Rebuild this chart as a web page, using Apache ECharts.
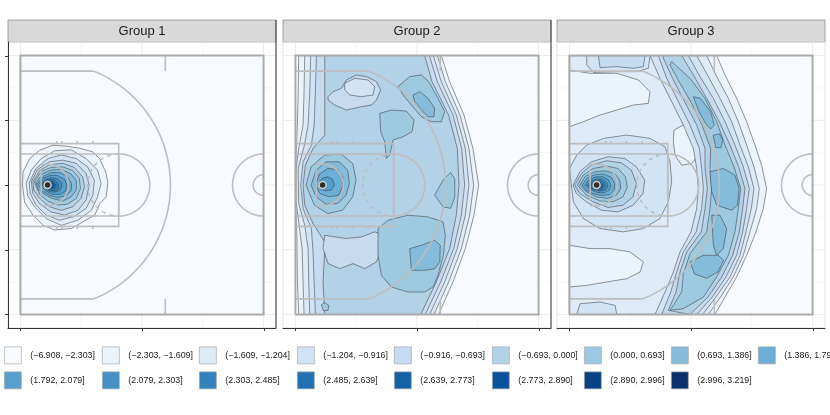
<!DOCTYPE html>
<html><head><meta charset="utf-8">
<script src="https://cdn.jsdelivr.net/npm/echarts@6/dist/echarts.min.js"></script>
<style>html,body{margin:0;padding:0;background:#fff}#c{width:830px;height:415px}</style>
</head><body><div id="c"></div>
<script>
// ---------- data ----------
const panelTitles = ['Group 1', 'Group 2', 'Group 3'];
const levelLabels = ['(\u22126.908, \u22122.303]','(\u22122.303, \u22121.609]','(\u22121.609, \u22121.204]','(\u22121.204, \u22120.916]','(\u22120.916, \u22120.693]','(\u22120.693, 0.000]','(0.000, 0.693]','(0.693, 1.386]','(1.386, 1.792]','(1.792, 2.079]','(2.079, 2.303]','(2.303, 2.485]','(2.485, 2.639]','(2.639, 2.773]','(2.773, 2.890]','(2.890, 2.996]','(2.996, 3.219]'];
const levelColors = ['#F7FBFF','#EBF3FB','#DEEBF7','#D2E3F3','#C6DBEF','#B2D2E8','#9ECAE1','#85BCDC','#6BAED6','#57A0CE','#4292C6','#3282BE','#2171B5','#1461A8','#08519C','#084184','#08306B'];
const xBreaks = [0, 23.5, 47];
const xMinorBreaks = [11.75, 35.25];
const yBreaks = [0, 12.5, 25, 37.5, 50];
const yMinorBreaks = [6.25, 18.75, 31.25, 43.75];
const hoop = [5.25, 25];

// court geometry (feet)
const courtBoundary = [[0,0],[47,0],[47,50],[0,50],[0,0]];
const courtSegments = [
  [[0,17],[19,17],[19,33],[0,33]],
  [[0,19],[19,19],[19,31],[0,31]],
  [[0,3],[14.18,3]], [[0,47],[14.18,47]],
  [[4,22],[4,28]], [[4,21],[5.25,21]], [[4,29],[5.25,29]],
  [[28,0],[28,3]], [[28,47],[28,50]],
  [[7,16.5],[7,17]], [[8,16.5],[8,17]], [[11,16.5],[11,17]], [[14,16.5],[14,17]],
  [[7,33],[7,33.5]], [[8,33],[8,33.5]], [[11,33],[11,33.5]], [[14,33],[14,33.5]]
];
const courtArcs = [[5.25,25,23.75,-67.86,67.86],[19,25,6,-90,90],[5.25,25,4,-90,90],[47,25,6,90,270],[47,25,2,90,270]];
const dashedArcs = [[19,25,6,90,270]];

// contour patches per panel: [level, flat x,y list], drawn in listed order
const group1 = [
[1,[0,0, 47,0, 47,50, 0,50]],
[2,[0.4,25, 0.5,27.5, 1.8,30.1, 3.7,31.7, 6.3,32.7, 8.9,32.5, 11.5,32.1, 14.0,31.4, 15.3,30.1, 16.5,27.5, 16.9,25.6, 16.6,22.7, 15.3,21.4, 14.4,19.2, 12.1,17.9, 9.9,16.6, 6.6,16.3, 4.4,17.2, 2.4,19.2, 0.8,21.7]],
[3,[1.1,25.3, 2.1,27.9, 4.0,30.1, 6.6,31.6, 9.8,31.8, 12.7,30.1, 14.9,27.9, 15.6,25.3, 14.9,22.7, 13.7,20.1, 11.1,18.2, 7.9,17.2, 5.0,18.5, 2.7,20.8, 1.4,23.0]],
[4,[1.7,25.4, 3.0,28.2, 5.3,30.1, 7.9,30.8, 10.8,30.1, 13.0,28.5, 14.3,25.9, 14.0,23.0, 12.7,20.5, 10.4,18.9, 7.5,18.2, 5.0,19.2, 3.0,21.1, 1.9,23.4]],
[5,[2.1,25.6, 3.3,28.0, 5.6,29.5, 8.2,29.8, 10.8,29.2, 12.7,27.2, 13.3,25.0, 12.7,22.1, 11.1,20.1, 8.5,19.2, 5.9,19.8, 3.7,21.4, 2.4,23.4]],
[6,[2.4,25.6, 3.7,27.8, 5.6,28.9, 8.2,29.2, 10.4,28.4, 12.0,26.6, 12.4,24.7, 11.7,22.4, 10.1,20.8, 7.9,20.1, 5.6,20.8, 3.7,22.4, 2.6,24.0]],
[7,[2.7,25.6, 4.0,27.6, 5.9,28.4, 8.2,28.5, 10.1,27.8, 11.4,26.3, 11.6,24.3, 10.8,22.4, 9.1,21.3, 7.2,21.1, 5.3,21.9, 3.7,23.2]],
[8,[3.0,25.4, 4.3,27.2, 5.9,27.9, 7.9,28.0, 9.7,27.2, 10.8,25.9, 10.8,24.0, 9.8,22.7, 8.2,21.9, 6.2,22.4, 4.6,23.2, 3.5,24.1]],
[9,[3.3,25.3, 4.5,26.7, 5.9,27.4, 7.7,27.4, 9.1,26.6, 9.9,25.3, 9.8,23.9, 8.8,22.9, 7.2,22.6, 5.6,23.0, 4.1,23.9]],
[10,[3.7,25.3, 4.6,26.4, 5.9,26.9, 7.3,26.8, 8.5,26.1, 9.0,25.0, 8.7,23.8, 7.7,23.2, 6.2,23.2, 4.8,23.9]],
[11,[4.0,25.2, 4.8,26.1, 5.9,26.4, 7.1,26.2, 7.9,25.5, 8.0,24.7, 7.5,23.9, 6.4,23.6, 5.2,24.0]],
[12,[4.2,25.2, 5.0,25.9, 5.9,26.1, 6.8,25.8, 7.3,25.2, 7.3,24.3, 6.6,23.9, 5.4,24.1]],
[13,[4.4,25.2, 5.2,25.7, 5.9,25.8, 6.6,25.4, 6.9,24.9, 6.6,24.3, 5.6,24.3]],
[14,[4.6,25.1, 5.2,25.5, 5.9,25.5, 6.4,25.2, 6.4,24.5, 5.6,24.5, 4.9,24.7]],
[15,[4.8,25.1, 5.3,25.4, 5.9,25.3, 6.1,25.0, 5.9,24.6, 5.2,24.7]],
[16,[4.9,25.1, 5.3,25.2, 5.7,25.2, 5.9,24.9, 5.5,24.7, 5.0,24.8]],
[17,[5.0,25.1, 5.3,25.2, 5.6,25.0, 5.5,24.9, 5.2,24.9]]
];

const group2 = [
[1,[0,0, 47,0, 47,50, 0,50]],
[2,[0.64,50, 28.2,50, 29.81,44.97, 32.58,38.52, 34.32,32.06, 35.42,24.97, 34.51,19.16, 32.84,12.71, 30.46,6.26, 27.69,0, 0.64,0, 0.39,6.26, 0.26,15.94, 0,21.74, 0,28.19, 0.26,33.35, 0.52,41.74]],
[3,[1.8,50, 27.43,50, 28.98,44.97, 31.81,38.52, 33.55,32.06, 34.45,24.97, 33.68,19.16, 32.07,12.71, 29.62,6.26, 26.79,0, 1.67,0, 1.48,6.26, 1.29,12.71, 0.64,17.87, 0.13,21.74, 0.13,28.19, 0.64,32.06, 1.48,36.58, 1.67,43.03]],
[4,[2.96,50, 26.66,50, 28.2,44.97, 31.1,38.52, 32.84,32.06, 33.55,24.97, 32.84,19.16, 31.29,12.71, 28.85,6.26, 25.95,0, 2.77,0, 2.58,6.26, 2.45,12.71, 1.8,17.23, 0.64,21.42, 0.52,28.19, 1.67,32.39, 2.45,36.58, 2.77,43.03]],
[5,[4.06,50, 25.89,50, 27.43,44.97, 30.46,38.52, 32.13,32.06, 32.71,24.97, 32.07,19.16, 30.59,12.71, 28.07,6.26, 25.11,0, 3.86,0, 3.61,6.26, 3.41,12.06, 3.09,16.58, 1.48,20.45, 1.03,24.97, 1.48,29.48, 3.09,32.71, 3.61,36.58, 3.86,43.03]],
[6,[5.67,50, 24.98,50, 26.4,44.97, 29.62,38.52, 31.29,32.06, 31.62,24.97, 31.1,19.16, 29.81,12.71, 27.24,6.26, 24.21,0, 5.67,0, 5.34,6.26, 5.67,12.71, 5.67,14.0, 3.41,17.55, 1.8,21.1, 1.48,24.97, 1.93,28.84, 3.41,32.06, 5.67,34.65, 5.67,41.74]],
[5,[6.31,42.06, 7.28,43.03, 8.89,43.68, 9.85,45.29, 11.78,46.26, 13.72,45.94, 15.65,44.97, 16.48,43.35, 15.65,41.42, 14.68,40.45, 12.75,40.13, 9.85,39.48, 7.6,40.45, 6.31,41.42]],
[4,[9.53,44.65, 11.46,45.61, 14.04,45.29, 15.33,44.0, 15.0,42.39, 12.75,42.06, 10.5,42.39, 9.53,43.35]],
[5,[5.67,15.29, 9.85,14.65, 12.75,14.97, 15.33,15.94, 17.26,15.29, 16.61,12.71, 15.65,10.13, 13.39,8.84, 11.14,9.81, 8.56,8.84, 6.31,9.81, 5.34,12.71]],
[7,[19.83,44.0, 22.09,45.94, 24.34,46.26, 25.76,44.97, 27.56,41.74, 28.85,39.16, 28.2,37.23, 26.27,37.23, 24.34,38.19, 22.41,40.45, 20.8,42.39]],
[7,[16.29,38.84, 18.54,39.48, 21.44,39.29, 22.92,37.55, 22.54,35.29, 20.8,34.32, 18.87,33.68, 18.22,30.77, 17.58,30.13, 17.26,33.35, 16.48,35.29]],
[7,[26.92,23.03, 28.53,25.94, 30.0,27.4, 30.8,26.2, 30.8,22.7, 30.0,20.5, 28.53,20.77]],
[7,[15.97,16.58, 17.9,18.19, 21.76,19.16, 25.63,18.84, 28.53,17.87, 28.98,15.29, 28.6,11.42, 27.56,7.55, 26.59,5.29, 24.98,4.32, 21.76,4.32, 18.54,5.29, 16.61,7.55, 15.97,11.42]],
[7,[5.02,1.87, 5.67,2.26, 6.44,1.74, 6.31,0.77, 5.34,0.77]],
[8,[22.73,42.39, 24.02,43.03, 25.63,41.74, 26.92,39.81, 26.79,38.19, 25.63,38.19, 24.34,39.48, 23.05,41.1]],
[8,[22.09,12.71, 24.34,13.35, 26.92,14.32, 28.0,13.35, 27.9,10.13, 26.9,8.8, 24.98,8.52, 22.41,8.52]],
[7,[2.06,24.97, 3.03,28.52, 5.6,30.77, 8.82,30.97, 11.08,29.16, 11.72,25.94, 11.08,22.71, 9.14,20.13, 6.25,19.48, 3.67,21.1]],
[8,[3.03,24.97, 3.99,27.87, 5.92,29.48, 8.5,29.48, 10.11,27.87, 10.43,25.29, 9.79,23.03, 8.18,21.42, 5.92,21.29, 3.99,22.71]],
[9,[3.86,24.97, 4.64,27.1, 6.25,28.19, 8.18,28.0, 9.14,26.58, 9.14,24.65, 8.37,23.03, 6.57,22.71, 4.76,23.35]],
[10,[4.51,25.1, 5.15,26.26, 6.25,26.58, 7.21,26.06, 7.53,24.97, 6.89,24.0, 5.6,23.87, 4.76,24.32]]
];

const group3 = [
[1,[0,0, 47,0, 47,50, 0,50]],
[2,[0,50, 28.46,50, 30.07,46.26, 32.32,41.74, 34.26,37.23, 35.87,32.71, 37.15,28.84, 38.12,24.32, 37.48,20.45, 36.06,15.94, 34.26,11.42, 32.32,7.23, 30.07,3.35, 28.14,0, 0,0]],
[3,[0,50, 26.53,50, 28.46,45.94, 30.72,41.74, 32.65,37.23, 34.26,32.71, 35.67,28.52, 36.7,24.32, 36.19,20.45, 34.9,15.94, 33.61,11.42, 31.68,7.23, 29.2,3.35, 26.85,0, 0,0]],
[2,[0,47.2, 3.99,46.58, 9.14,46.58, 13.33,45.29, 15.58,43.03, 15.26,40.77, 12.36,40.45, 9.14,39.48, 5.92,38.52, 2.7,37.23, 0,36.26]],
[2,[0,13.35, 3.99,12.71, 7.86,12.71, 11.72,12.06, 14.29,10.13, 13.65,8.19, 11.08,6.9, 7.21,6.26, 3.35,5.61, 0,5.29]],
[2,[20.22,35.61, 22.02,36.58, 24.28,36.58, 24.92,34.0, 24.92,30.77, 23.63,29.16, 21.7,28.84, 20.41,30.77, 20.09,33.35]],
[4,[24.6,50, 26.85,45.94, 29.11,41.74, 31.36,37.23, 32.97,32.71, 34.58,28.52, 35.67,24.32, 35.16,20.45, 34.13,15.94, 32.97,11.42, 31.04,7.23, 28.3,3.35, 25.76,0, 16.55,0, 18.48,4.32, 20.09,8.19, 21.38,12.06, 23.5,15.94, 24.6,20.45, 24.92,24.32, 24.6,28.19, 23.95,32.06, 22.02,36.58, 19.77,41.1, 17.51,45.61, 15.58,50]],
[4,[0,28.19, 1.42,30.77, 3.35,32.71, 6.57,34.0, 11.08,34.65, 15.58,34.0, 18.48,32.39, 19.45,29.48, 19.77,25.61, 19.12,21.74, 17.51,18.52, 14.29,16.58, 10.43,15.94, 5.92,16.58, 2.7,18.52, 0.77,21.74]],
[4,[3.35,50, 15.58,50, 15.26,47.55, 13.01,46.9, 9.14,46.9, 4.64,46.77, 3.35,48.19]],
[5,[5.6,50, 14.62,50, 14.29,47.87, 12.36,47.55, 9.14,47.87, 5.92,47.68]],
[4,[1.42,0, 9.14,0, 8.82,1.74, 5.92,2.39, 2.06,2.06]],
[5,[22.99,50, 25.24,45.94, 27.82,41.74, 30.07,37.23, 32.0,32.71, 33.61,28.52, 34.77,24.32, 34.26,20.45, 33.48,15.94, 32.32,11.42, 30.26,7.23, 27.6,3.35, 24.6,0, 17.84,0, 19.58,4.32, 20.73,8.19, 22.02,12.06, 24.5,15.94, 25.56,20.45, 25.89,24.32, 25.56,28.19, 25.11,32.06, 23.31,36.58, 21.06,41.1, 18.8,45.61, 17.19,50]],
[6,[21.7,50, 23.95,46.26, 26.53,41.74, 28.98,37.23, 31.04,32.71, 32.71,28.52, 33.93,24.32, 33.48,20.45, 32.84,15.94, 31.55,11.42, 29.43,7.23, 26.8,3.35, 23.31,0, 19.12,0.77, 20.61,4.32, 21.38,8.19, 22.67,12.06, 25.5,15.94, 26.21,20.45, 26.66,24.32, 26.21,28.19, 26.21,32.06, 24.6,36.58, 22.34,40.97, 20.09,45.29, 18.16,49.48, 18.16,50]],
[7,[19.77,48.84, 23.31,45.61, 26.21,41.74, 28.46,37.23, 30.07,32.71, 31.81,28.52, 33.1,24.32, 32.65,20.45, 32.0,15.94, 30.72,11.42, 28.46,7.23, 25.9,3.35, 22.02,1.1, 19.45,0.77, 20.09,1.74, 21.7,4.32, 22.02,7.87, 23.31,11.74, 26.53,15.94, 27.17,20.45, 27.5,24.32, 27.17,28.19, 27.3,32.06, 25.76,36.26, 23.63,40.77, 21.38,44.65, 19.45,48.19]],
[8,[23.95,42.06, 25.3,41.74, 27.3,39.16, 28.0,36.6, 27.3,35.8, 26.3,36.9, 24.92,39.48]],
[8,[27.8,34.6, 29.0,34.9, 29.6,33.7, 29.3,32.2, 28.3,32.2]],
[8,[27.17,27.55, 29.75,28.19, 32.0,26.9, 32.8,24.32, 32.5,21.1, 31.36,20.13, 28.46,21.1, 27.5,23.68]],
[8,[27.5,19.16, 29.11,19.16, 30.39,16.58, 29.75,12.71, 28.46,11.42, 27.82,13.35]],
[8,[23.3,10.13, 25.89,11.42, 28.78,11.42, 29.8,10.45, 28.7,8.19, 26.53,7.0, 24.2,7.8]],
[5,[0.71,24.97, 2.0,27.55, 4.25,29.48, 7.47,30.45, 10.69,30.13, 12.94,28.52, 14.55,25.94, 14.23,23.35, 12.3,21.1, 9.4,19.81, 6.18,20.13, 3.28,21.74, 1.35,23.35]],
[6,[1.03,24.97, 2.32,27.23, 4.25,28.84, 7.15,29.68, 10.05,29.29, 11.98,27.87, 12.94,25.29, 12.3,22.71, 10.37,21.1, 7.47,20.65, 4.57,21.74, 2.0,23.35]],
[7,[1.55,24.97, 2.64,26.9, 4.57,28.19, 7.15,28.65, 9.4,28.19, 10.82,26.58, 11.2,24.65, 10.37,22.71, 8.44,21.74, 5.86,21.94, 3.28,23.03]],
[8,[2.0,24.97, 3.09,26.71, 4.89,27.55, 6.95,27.74, 8.76,27.23, 9.72,25.94, 9.92,24.32, 9.08,23.03, 7.34,22.39, 5.22,22.71, 3.28,23.68]],
[9,[2.45,24.97, 3.48,26.39, 5.02,27.03, 6.7,27.1, 8.11,26.45, 8.76,25.29, 8.63,24.0, 7.79,23.16, 6.31,22.97, 4.57,23.35, 3.28,24.0]],
[10,[2.96,24.97, 3.8,26.06, 5.15,26.58, 6.5,26.58, 7.6,25.94, 7.98,24.97, 7.73,24.0, 6.7,23.48, 5.41,23.55, 3.93,24.13]],
[11,[3.35,24.97, 4.12,25.81, 5.28,26.19, 6.37,26.13, 7.21,25.55, 7.41,24.77, 6.95,24.0, 5.92,23.81, 4.57,24.13]],
[12,[3.73,24.97, 4.38,25.61, 5.34,25.87, 6.18,25.81, 6.83,25.29, 6.89,24.65, 6.31,24.13, 5.41,24.06, 4.38,24.39]],
[13,[4.06,25.03, 4.64,25.48, 5.41,25.61, 6.05,25.48, 6.44,25.03, 6.31,24.52, 5.67,24.26, 4.76,24.52]],
[14,[4.31,25.03, 4.83,25.35, 5.47,25.42, 5.92,25.23, 6.05,24.84, 5.67,24.52, 4.89,24.65]],
[15,[4.51,25.03, 4.96,25.29, 5.47,25.29, 5.8,25.03, 5.6,24.71, 4.96,24.71]],
[16,[4.7,25.03, 5.09,25.23, 5.47,25.16, 5.6,24.97, 5.28,24.77, 4.83,24.84]]
];

// ---------- layout / style ----------
const panelLefts = [8, 283, 557];
const PT = 42, PW = 268, PH = 286, STRIP = 22;
const darkRight = [true, true, false];
const FONT = '"Liberation Sans", Arial, Helvetica, sans-serif';
const contourStroke = '#2e2e2e';
const legendCols = [4, 102, 199, 297, 394, 492, 584, 671, 758];

function arcPts(a) {
  const pts = [];
  const step = (a[4] - a[3]) / 60;
  for (let k = 0; k <= 60; k++) {
    const t = (a[3] + k * step) * Math.PI / 180;
    pts.push([a[0] + a[2] * Math.cos(t), a[1] + a[2] * Math.sin(t)]);
  }
  return pts;
}

function frameSeries(p) {
  return { type: 'custom', xAxisIndex: p, yAxisIndex: p, z: 0, silent: true, animation: false, data: [[0, 0]],
    renderItem: function (params, api) {
      const cs = params.coordSys, L = cs.x, T = cs.y, W = cs.width, H = cs.height;
      const ch = [];
      const minor = { stroke: '#f2f2f2', lineWidth: 0.6 }, major = { stroke: '#ebebeb', lineWidth: 1 };
      xMinorBreaks.forEach(v => { const x = api.coord([v, 0])[0]; ch.push({ type: 'line', shape: { x1: x, y1: T, x2: x, y2: T + H }, style: minor }); });
      yMinorBreaks.forEach(v => { const y = api.coord([0, v])[1]; ch.push({ type: 'line', shape: { x1: L, y1: y, x2: L + W, y2: y }, style: minor }); });
      xBreaks.forEach(v => { const x = api.coord([v, 0])[0]; ch.push({ type: 'line', shape: { x1: x, y1: T, x2: x, y2: T + H }, style: major }); });
      yBreaks.forEach(v => { const y = api.coord([0, v])[1]; ch.push({ type: 'line', shape: { x1: L, y1: y, x2: L + W, y2: y }, style: major }); });
      ch.push({ type: 'rect', shape: { x: L, y: T, width: W, height: H }, style: { fill: 'none', stroke: '#e3e3e3', lineWidth: 1 } });
      return { type: 'group', children: ch };
    } };
}

function decorSeries(p) {
  return { type: 'custom', xAxisIndex: p, yAxisIndex: p, z: 10, silent: true, animation: false, data: [[0, 0]],
    renderItem: function (params, api) {
      const cs = params.coordSys, L = cs.x, T = cs.y, W = cs.width, H = cs.height;
      const ch = [], dark = { stroke: '#333333', lineWidth: 1 };
      xBreaks.forEach(v => { const x = Math.round(api.coord([v, 0])[0]) + 0.5; ch.push({ type: 'line', shape: { x1: x, y1: T + H, x2: x, y2: T + H + 3 }, style: dark }); });
      if (p === 0) yBreaks.forEach(v => { const y = Math.round(api.coord([0, v])[1]) + 0.5; ch.push({ type: 'line', shape: { x1: L - 3, y1: y, x2: L, y2: y }, style: dark }); });
      if (darkRight[p]) ch.push({ type: 'line', shape: { x1: L + W, y1: T - STRIP, x2: L + W, y2: T + H }, style: dark });
      return { type: 'group', children: ch };
    } };
}

function contourSeries(p, patches, level) {
  const items = [];
  patches.forEach((pt, i) => { if (pt[0] === level) items.push([i, i]); });
  if (!items.length) return null;
  const col = levelColors[level - 1];
  return { type: 'custom', name: levelLabels[level - 1], xAxisIndex: p, yAxisIndex: p, z: 2, silent: true, animation: false,
    itemStyle: { color: col }, data: items,
    renderItem: function (params, api) {
      const i = api.value(0), flat = patches[i][1], pts = [];
      for (let j = 0; j < flat.length; j += 2) pts.push(api.coord([flat[j], flat[j + 1]]));
      return { type: 'polygon', z2: i, shape: { points: pts },
        style: { fill: col, stroke: level === 1 ? null : contourStroke, lineWidth: level === 1 ? 0 : 0.5, lineJoin: 'round' } };
    } };
}

function courtSeries(p) {
  return { type: 'custom', xAxisIndex: p, yAxisIndex: p, z: 5, silent: true, animation: false, data: [[0, 0]],
    renderItem: function (params, api) {
      const ch = [];
      const line = (pts, st) => ch.push({ type: 'polyline', shape: { points: pts.map(q => api.coord(q)) }, style: Object.assign({ fill: null }, st) });
      const thin = { stroke: '#bdbdbd', lineWidth: 1.6 };
      courtSegments.forEach(s => line(s, thin));
      courtArcs.forEach(a => line(arcPts(a), thin));
      dashedArcs.forEach(a => line(arcPts(a), { stroke: '#bdbdbd', lineWidth: 1.6, lineDash: [4, 4] }));
      line(courtBoundary, { stroke: '#ababab', lineWidth: 2 });
      return { type: 'group', children: ch };
    } };
}

function hoopSeries(p) {
  return { type: 'scatter', name: 'hoop', xAxisIndex: p, yAxisIndex: p, z: 6, silent: true, animation: false,
    data: [hoop], symbol: 'circle', symbolSize: 7,
    itemStyle: { color: '#2f2f2f', borderColor: '#cfcfcf', borderWidth: 1.5, opacity: 1 } };
}

const groups = [group1, group2, group3];
const series = [];
groups.forEach((patches, p) => {
  series.push(frameSeries(p));
  for (let k = 1; k <= 17; k++) { const s = contourSeries(p, patches, k); if (s) series.push(s); }
  series.push(courtSeries(p));
  series.push(hoopSeries(p));
  series.push(decorSeries(p));
});

const option = {
  backgroundColor: '#ffffff',
  animation: false,
  grid: panelLefts.map(l => ({ left: l, top: PT, width: PW, height: PH, containLabel: false })),
  xAxis: panelLefts.map((l, i) => ({ gridIndex: i, type: 'value', min: -2.4, max: 49.4,
    axisLine: { show: true, onZero: false, lineStyle: { color: '#333333', width: 1 } },
    axisTick: { show: false }, axisLabel: { show: false }, splitLine: { show: false } })),
  yAxis: panelLefts.map((l, i) => ({ gridIndex: i, type: 'value', min: -2.63, max: 52.63,
    axisLine: { show: i === 0, onZero: false, lineStyle: { color: '#333333', width: 1 } },
    axisTick: { show: false }, axisLabel: { show: false }, splitLine: { show: false } })),
  graphic: panelLefts.map((l, i) => ({ type: 'group', children: [
    { type: 'rect', shape: { x: l, y: PT - STRIP, width: PW, height: STRIP }, style: { fill: '#d9d9d9', stroke: '#6e6e6e', lineWidth: 0.6 } },
    { type: 'text', x: l + PW / 2, y: PT - STRIP / 2, style: { text: panelTitles[i], fontSize: 13, fill: '#1a1a1a', align: 'center', verticalAlign: 'middle', fontFamily: FONT } }
  ] })),
  legend: levelLabels.map((name, i) => ({
    data: [name], left: legendCols[i % 9], top: i < 9 ? 346.5 : 371.5, orient: 'horizontal',
    padding: 0, itemGap: 0, itemWidth: 17, itemHeight: 17, icon: 'rect', selectedMode: false,
    itemStyle: { borderColor: '#a8a8a8', borderWidth: 0.7 },
    textStyle: { fontSize: 8.8, color: '#1a1a1a', fontFamily: FONT, padding: [0, 0, 0, 4] }
  })),
  series: series
};

const chart = echarts.init(document.getElementById('c'), null, { renderer: 'canvas' });
chart.setOption(option);
</script>
</body></html>
